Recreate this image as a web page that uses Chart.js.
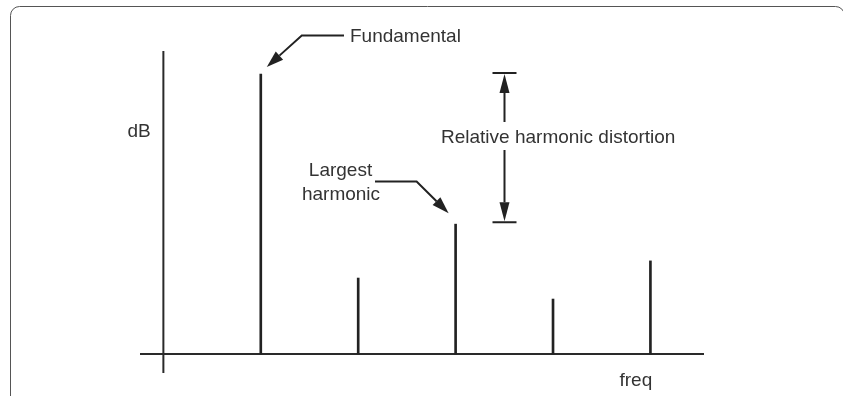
<!DOCTYPE html>
<html>
<head>
<meta charset="utf-8">
<script src="https://cdn.jsdelivr.net/npm/chart.js@4"></script>
<style>
  html, body { margin: 0; padding: 0; background: #fff; }
  #wrap { width: 843px; height: 396px; }
</style>
</head>
<body>
<div id="wrap"><canvas id="c" width="843" height="396"></canvas></div>
<script>
// spectrum: fundamental + 4 harmonics, arbitrary dB above floor
const harmonics = [1, 2, 3, 4, 5]
const levels = [80, 21.7, 37.1, 15.7, 26.6]
const xRange = [-0.24, 5.55]
const yRange = [-5.43, 86.57]

const yTitle = 'dB'
const xTitle = 'freq'
const fundLabel = 'Fundamental'
const largestLabel = ['Largest', 'harmonic']
const distLabel = 'Relative harmonic distortion'

const ink = '#222'
const textInk = '#333'
const font = '19px "Liberation Sans", Arial, sans-serif'

function arrowHead(ctx, x0, y0, x1, y1, len, half) {
    const a = Math.atan2(y1 - y0, x1 - x0)
    const bx = x1 - len * Math.cos(a), by = y1 - len * Math.sin(a)
    ctx.beginPath()
    ctx.moveTo(x1, y1)
    ctx.lineTo(bx + half * Math.sin(a), by - half * Math.cos(a))
    ctx.lineTo(bx - half * Math.sin(a), by + half * Math.cos(a))
    ctx.closePath()
    ctx.fill()
    return [bx, by]
}

const sketch = {
    id: 'sketch',
    beforeDraw(chart) {
        const ctx = chart.ctx
        ctx.save()
        ctx.strokeStyle = '#555'
        ctx.lineWidth = 1
        ctx.beginPath()
        ctx.roundRect(10.5, 6.5, 834, 420, 9)
        ctx.stroke()
        ctx.restore()
    },
    afterDraw(chart) {
        const ctx = chart.ctx
        const xs = chart.scales.x, ys = chart.scales.y
        const fx = xs.getPixelForValue(harmonics[0])
        const fy = ys.getPixelForValue(levels[0])
        const big = 2
        const hx = xs.getPixelForValue(harmonics[big])
        const hy = ys.getPixelForValue(levels[big])

        ctx.save()
        ctx.strokeStyle = ink
        ctx.fillStyle = ink
        ctx.lineWidth = 2
        ctx.lineCap = 'butt'

        // fundamental pointer
        let tip = [fx + 6, fy - 7]
        let knee = [fx + 41, 35.5]
        let base = arrowHead(ctx, knee[0], knee[1], tip[0], tip[1], 17, 5.5)
        ctx.beginPath()
        ctx.moveTo(344, knee[1])
        ctx.lineTo(knee[0], knee[1])
        ctx.lineTo(base[0], base[1])
        ctx.stroke()

        // largest harmonic pointer
        tip = [hx - 7, hy - 11]
        knee = [hx - 39, 181.5]
        base = arrowHead(ctx, knee[0], knee[1], tip[0], tip[1], 17, 5.5)
        ctx.beginPath()
        ctx.moveTo(375, knee[1])
        ctx.lineTo(knee[0], knee[1])
        ctx.lineTo(base[0], base[1])
        ctx.stroke()

        // relative distortion span
        const vx = 504.5
        const topY = fy - 1, botY = hy - 2
        ctx.beginPath()
        ctx.moveTo(vx - 12, topY); ctx.lineTo(vx + 12, topY)
        ctx.moveTo(vx - 12, botY); ctx.lineTo(vx + 12, botY)
        ctx.stroke()
        const b1 = arrowHead(ctx, vx, topY + 40, vx, topY + 1, 19, 5)
        const b2 = arrowHead(ctx, vx, botY - 40, vx, botY - 1, 19, 5)
        ctx.beginPath()
        ctx.moveTo(vx, b1[1]); ctx.lineTo(vx, 122)
        ctx.moveTo(vx, 150); ctx.lineTo(vx, b2[1])
        ctx.stroke()

        // texts
        ctx.fillStyle = textInk
        ctx.font = font
        ctx.textBaseline = 'alphabetic'
        ctx.textAlign = 'left'
        ctx.fillText(fundLabel, 350, 41.5)
        ctx.fillText(distLabel, 441, 143)
        ctx.fillText(yTitle, 127.5, 136.5)
        ctx.fillText(xTitle, 619.5, 386)
        ctx.textAlign = 'center'
        ctx.fillText(largestLabel[0], 340.5, 176)
        ctx.fillText(largestLabel[1], 341, 200)
        ctx.restore()
    }
}

new Chart(document.getElementById('c'), {
    type: 'bar',
    data: {
        datasets: [
            {
                type: 'bar',
                data: harmonics.map((h, i) => ({x: h, y: levels[i]})),
                backgroundColor: ink,
                borderWidth: 0,
                barThickness: 2
            },
            {
                type: 'line',
                data: [{x: xRange[0], y: 0}, {x: xRange[1], y: 0}],
                borderColor: '#2a2a2a',
                borderWidth: 2,
                pointRadius: 0
            },
            {
                type: 'line',
                data: [{x: 0, y: yRange[0]}, {x: 0, y: yRange[1]}],
                borderColor: '#2a2a2a',
                borderWidth: 2,
                pointRadius: 0
            }
        ]
    },
    options: {
        responsive: false,
        animation: false,
        layout: {padding: {left: 140, right: 139, top: 51, bottom: 23}},
        plugins: {legend: {display: false}, tooltip: {enabled: false}},
        scales: {
            x: {type: 'linear', min: xRange[0], max: xRange[1], offset: false, display: false},
            y: {type: 'linear', min: yRange[0], max: yRange[1], display: false}
        }
    },
    plugins: [sketch]
})
</script>
</body>
</html>
